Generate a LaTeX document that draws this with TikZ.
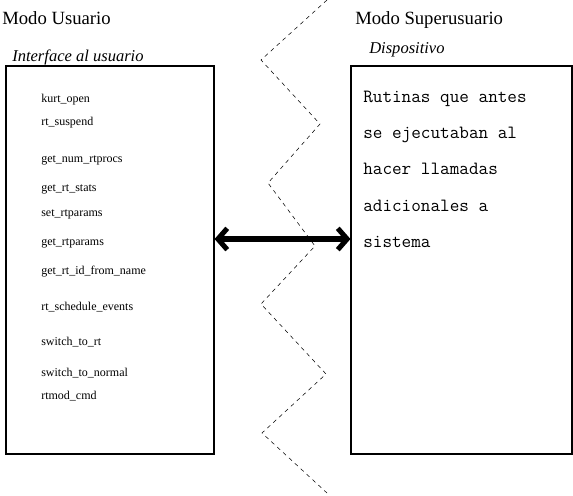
\documentclass[tikz,border=0pt]{standalone}
\usepackage{fontspec}
\setmainfont{Liberation Serif}
\usetikzlibrary{arrows.meta, positioning}

\tikzset{
    modo/.style={anchor=base west, inner sep=0pt, font=\fontsize{14}{16}\selectfont},
    sub/.style={anchor=base west, inner sep=0pt, font=\fontsize{12.4}{14}\selectfont\itshape},
    func/.style={anchor=base west, inner sep=0pt, font=\fontsize{9}{10}\selectfont},
    rut/.style={anchor=base west, inner sep=0pt, font=\fontsize{14}{16}\ttfamily},
    caja/.style={draw, line width=0.8pt, inner sep=0pt}
}

\begin{document}
\begin{tikzpicture}[x=0.75pt, y=-0.75pt]
                \useasboundingbox (0,0) rectangle (573,495);
                % cajas
                \node[caja, minimum width=208*0.75pt, minimum height=388*0.75pt] (usr) at (110,260) {};
                \node[caja, minimum width=221*0.75pt, minimum height=388*0.75pt] (dev) at (461.5,260) {};
                % titulos
                \node[modo] (mu) at (2,25) {Modo Usuario};
                \node[modo] (ms) at (355,25) {Modo Superusuario};
                \node[sub] (iu) at (12,62) {Interface al usuario};
                \node[sub] (di) at (369,54) {Dispositivo};
                % funciones
                \node[func] (f1) at (41,103) {kurt\_open};
                \node[func] (f2) at (41,126) {rt\_suspend};
                \node[func] (f3) at (41,162) {get\_num\_rtprocs};
                \node[func] (f4) at (41,191) {get\_rt\_stats};
                \node[func] (f5) at (41,216) {set\_rtparams};
                \node[func] (f6) at (41,245) {get\_rtparams};
                \node[func] (f7) at (41,274) {get\_rt\_id\_from\_name};
                \node[func] (f8) at (41,310) {rt\_schedule\_events};
                \node[func] (f9) at (41,345) {switch\_to\_rt};
                \node[func] (f10) at (41,376) {switch\_to\_normal};
                \node[func] (f11) at (41,399) {rtmod\_cmd};
                % rutinas
                \node[rut] (r1) at (363,103) {Rutinas que antes};
                \node[rut] (r2) at (363,139) {se ejecutaban al};
                \node[rut] (r3) at (363,175) {hacer llamadas};
                \node[rut] (r4) at (363,211) {adicionales a};
                \node[rut] (r5) at (363,247) {sistema};
                \coordinate (flecha) at (283,239);
                % frontera
                \draw[dashed, line width=0.4pt, dash pattern=on 3pt off 3pt]
                    (327,0) -- (261,60) -- (320,124) -- (268,183) -- (315,246)
                    -- (261,304) -- (326,374) -- (262,433) -- (327,493);
                \draw[line width=3.8pt, {Straight Barb[length=7pt, width=16pt]}-{Straight Barb[length=7pt, width=16pt]}]
                    (usr.east |- flecha) -- (dev.west |- flecha);
            \end{tikzpicture}
\end{document}
